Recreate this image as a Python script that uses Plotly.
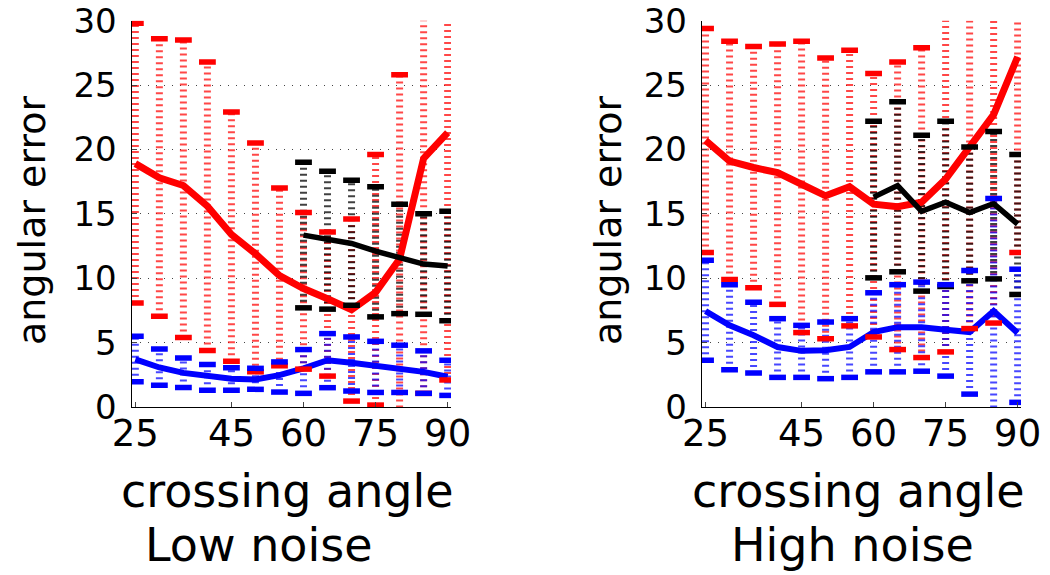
import plotly.graph_objects as go

angles = [25, 30, 35, 40, 45, 50, 55, 60, 65, 70, 75, 80, 85, 90]
angles_wide = [60, 65, 70, 75, 80, 85, 90]
xtick_vals = [25, 45, 60, 75, 90]
ytick_vals = [0, 5, 10, 15, 20, 25, 30]

# low noise panel
red_mean_low = [18.9, 17.8, 17.2, 15.6, 13.4, 11.9, 10.2, 9.2, 8.4, 7.55, 8.9, 11.5, 19.3, 21.3]
red_hi_low = [29.8, 28.6, 28.5, 26.8, 22.9, 20.5, 17.0, 15.1, 13.6, 14.6, 19.6, 25.8, 32.0, 32.0]
red_lo_low = [8.07, 7.04, 5.4, 4.38, 3.56, 2.73, 3.2, 2.94, 2.4, 0.46, 0.15, -0.5, 1.06, 2.1]
black_mean_low = [13.35, 13.0, 12.7, 12.1, 11.6, 11.1, 10.95]
black_hi_low = [19.0, 18.3, 17.6, 17.1, 15.75, 15.0, 15.2]
black_lo_low = [7.7, 7.6, 7.9, 7.0, 7.25, 7.2, 6.7]
blue_mean_low = [3.7, 3.07, 2.65, 2.4, 2.2, 2.14, 2.47, 3.0, 3.63, 3.43, 3.2, 2.9, 2.73, 2.35]
blue_hi_low = [5.5, 4.5, 3.8, 3.3, 3.04, 3.0, 3.5, 4.46, 5.7, 5.44, 5.1, 4.8, 4.36, 3.63]
blue_lo_low = [1.96, 1.68, 1.52, 1.3, 1.3, 1.37, 1.16, 1.06, 1.5, 1.24, 1.13, 1.13, 1.06, 0.9]

# high noise panel
red_mean_high = [20.7, 19.1, 18.6, 18.2, 17.3, 16.4, 17.1, 15.75, 15.55, 15.9, 17.7, 20.1, 22.7, 27.2]
red_hi_high = [29.4, 28.4, 28.0, 28.2, 28.4, 27.1, 27.7, 25.9, 26.8, 27.9, 32.0, 32.0, 32.0, 32.0]
red_lo_high = [12.0, 9.9, 9.26, 7.97, 5.78, 5.3, 6.3, 5.44, 4.46, 3.84, 4.28, 6.09, 6.52, 12.0]
black_mean_high = [16.3, 17.2, 15.2, 15.9, 15.1, 15.8, 14.2]
black_hi_high = [22.2, 23.7, 21.1, 22.2, 20.2, 21.4, 19.6]
black_lo_high = [10.03, 10.5, 9.0, 9.36, 9.8, 9.95, 8.74]
blue_mean_high = [7.45, 6.34, 5.57, 4.66, 4.36, 4.4, 4.66, 5.82, 6.2, 6.2, 6.0, 5.82, 7.45, 5.75]
blue_hi_high = [11.4, 9.5, 8.14, 6.86, 6.34, 6.6, 6.86, 8.87, 9.5, 9.7, 9.5, 10.6, 16.2, 10.7]
blue_lo_high = [3.63, 2.9, 2.65, 2.3, 2.3, 2.2, 2.3, 2.73, 2.73, 2.78, 2.4, 1.0, -0.5, 0.36]

FONT = "DejaVu Sans, Arial, sans-serif"
W, H = 1050, 575
COLORS = {
    "red": ("#ff0000", "rgba(255,0,0,0.72)", 7),
    "black": ("#000000", "rgba(0,0,0,0.75)", 5.5),
    "blue": ("#0000ff", "rgba(0,0,255,0.72)", 6),
}


def px(x):
    return x / W


def py(y):
    return 1 - y / H


def _bar_path(xs, lo, hi):
    bx, by = [], []
    for x, a, b in zip(xs, lo, hi):
        bx += [x, x, None]
        by += [a, b, None]
    return bx, by


def add_series(fig, xs, mean, lo, hi, color, xref, yref):
    solid, dotted, width = COLORS[color]
    bx, by = _bar_path(xs, lo, hi)
    fig.add_trace(go.Scatter(x=bx, y=by, mode="lines", xaxis=xref, yaxis=yref,
                             line=dict(color=dotted, width=7, dash="2px,4px"), hoverinfo="skip"))
    return (xs, mean, lo, hi, solid, width, xref, yref)


def add_means_and_caps(fig, items):
    for xs, mean, lo, hi, solid, width, xref, yref in items:
        fig.add_trace(go.Scatter(x=xs, y=mean, mode="lines", xaxis=xref, yaxis=yref,
                                 line=dict(color=solid, width=width)))
    for xs, mean, lo, hi, solid, width, xref, yref in items:
        fig.add_trace(go.Scatter(x=xs + xs, y=lo + hi, mode="markers", xaxis=xref, yaxis=yref,
                                 marker=dict(symbol="line-ew", size=12, line=dict(color=solid, width=5.5))))


def label(fig, text, x, y, size, angle=0):
    fig.add_annotation(text=text, x=px(x), y=py(y), xref="paper", yref="paper",
                       xanchor="center", yanchor="middle", textangle=angle,
                       showarrow=False, font=dict(size=size, color="black", family=FONT))


fig = go.Figure()
panels = [
    ("x", "y", [(angles, red_mean_low, red_lo_low, red_hi_low, "red"),
                (angles_wide, black_mean_low, black_lo_low, black_hi_low, "black"),
                (angles, blue_mean_low, blue_lo_low, blue_hi_low, "blue")]),
    ("x2", "y2", [(angles, red_mean_high, red_lo_high, red_hi_high, "red"),
                  (angles_wide, black_mean_high, black_lo_high, black_hi_high, "black"),
                  (angles, blue_mean_high, blue_lo_high, blue_hi_high, "blue")]),
]
for xref, yref, series in panels:
    items = [add_series(fig, xs, m, lo, hi, c, xref, yref) for xs, m, lo, hi, c in series]
    add_means_and_caps(fig, items)

xaxis_style = dict(range=[24.2, 90.7], tickvals=xtick_vals, ticks="inside", ticklen=5,
                   showline=True, linecolor="black", linewidth=1, showgrid=False, zeroline=False,
                   automargin=False, ticklabeloverflow="allow",
                   tickfont=dict(size=37, color="black", family=FONT), ticklabelstandoff=-6)
yaxis_style = dict(range=[0, 30], tickvals=ytick_vals, ticks="inside", ticklen=5,
                   showline=True, linecolor="black", linewidth=1, showgrid=True,
                   gridcolor="#444444", griddash="1px,7px", gridwidth=1, zeroline=False,
                   automargin=False, ticklabeloverflow="allow",
                   tickfont=dict(size=34, color="black", family=FONT), ticklabelstandoff=7,
                   domain=[py(407), py(20.7)])

fig.update_layout(
    width=W,
    height=H,
    margin=dict(l=0, r=0, t=0, b=0),
    paper_bgcolor="white",
    plot_bgcolor="white",
    showlegend=False,
    font=dict(family=FONT, color="black"),
    xaxis=dict(domain=[px(131.5), px(451)], anchor="y", **xaxis_style),
    yaxis=dict(anchor="x", **yaxis_style),
    xaxis2=dict(domain=[px(701.7), px(1021)], anchor="y2", **xaxis_style),
    yaxis2=dict(anchor="x2", **yaxis_style),
)

label(fig, "angular error", 32, 221, 38, angle=-90)
label(fig, "angular error", 608, 221, 38, angle=-90)
label(fig, "crossing angle", 287, 491, 46)
label(fig, "crossing angle", 858, 491, 46)
label(fig, "Low noise", 259, 545, 46)
label(fig, "High noise", 852, 545, 46)

# the page has no body margin, so the figure fills the window exactly
fig.write_html("out.html", config=dict(displayModeBar=False),
               post_script="document.body.style.margin = '0';")
